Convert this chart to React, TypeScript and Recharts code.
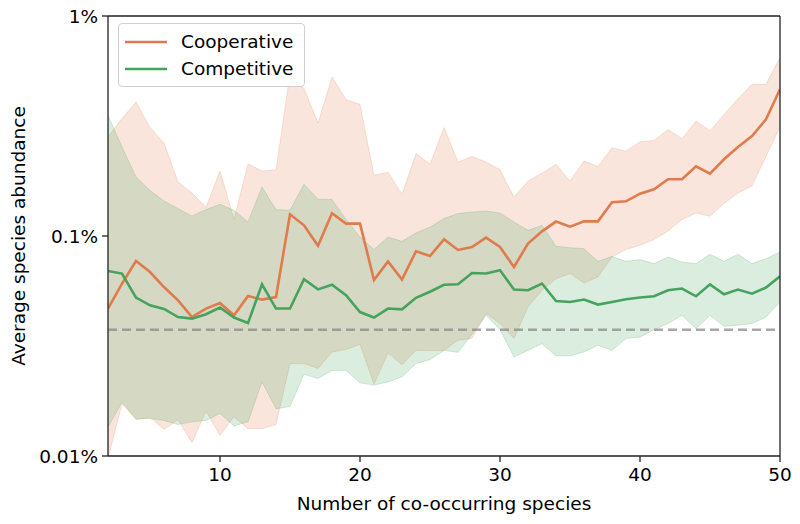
import React from "react";
import {
  ComposedChart,
  Area,
  Line,
  XAxis,
  YAxis,
  ReferenceLine,
  Legend,
} from "recharts";

// number of co-occurring species
const species = [
  2, 3, 4, 5, 6, 7, 8, 9, 10, 11, 12, 13, 14, 15, 16, 17, 18, 19, 20, 21, 22, 23, 24, 25, 26,
  27, 28, 29, 30, 31, 32, 33, 34, 35, 36, 37, 38, 39, 40, 41, 42, 43, 44, 45, 46, 47, 48, 49, 50,
];

// values in percent
const coopMean = [
  0.0468, 0.0608, 0.077, 0.0686, 0.0586, 0.051, 0.0428, 0.0468, 0.0496, 0.0436, 0.0534, 0.0514,
  0.0528, 0.1255, 0.1118, 0.0903, 0.1268, 0.1138, 0.1138, 0.0631, 0.0767, 0.0634, 0.0852, 0.0811,
  0.0966, 0.0864, 0.0891, 0.0983, 0.0891, 0.0723, 0.0924, 0.105, 0.1163, 0.1103, 0.1166, 0.1166,
  0.1423, 0.1438, 0.1558, 0.163, 0.181, 0.181, 0.2074, 0.1921, 0.2232, 0.2538, 0.2848, 0.3393,
  0.4644,
];
const coopLow = [
  0.0097, 0.0173, 0.0146, 0.015, 0.0132, 0.0146, 0.0115, 0.016, 0.0124, 0.0151, 0.0133, 0.0133,
  0.0139, 0.0263, 0.0263, 0.025, 0.0297, 0.0305, 0.0322, 0.0212, 0.0294, 0.026, 0.0302, 0.0302,
  0.0302, 0.0336, 0.0342, 0.0444, 0.04, 0.0342, 0.0476, 0.0567, 0.064, 0.0675, 0.0611, 0.0651,
  0.0804, 0.0868, 0.0907, 0.0963, 0.1054, 0.1187, 0.1272, 0.1229, 0.1404, 0.157, 0.1691, 0.23,
  0.314,
];
const coopHigh = [
  0.282, 0.342, 0.406, 0.311, 0.265, 0.176, 0.157, 0.135, 0.1975, 0.119, 0.213, 0.1975, 0.2,
  0.547, 0.468, 0.326, 0.528, 0.417, 0.397, 0.189, 0.195, 0.155, 0.237, 0.212, 0.311, 0.217,
  0.23, 0.217, 0.2, 0.15, 0.178, 0.193, 0.212, 0.178, 0.219, 0.207, 0.252, 0.243, 0.268, 0.272,
  0.305, 0.277, 0.333, 0.3, 0.357, 0.421, 0.489, 0.489, 0.647,
];
const compMean = [
  0.0693, 0.0675, 0.0525, 0.0484, 0.0466, 0.0428, 0.0421, 0.0441, 0.0473, 0.0426, 0.0402, 0.0603,
  0.0468, 0.0468, 0.0636, 0.0572, 0.0601, 0.0538, 0.0451, 0.0426, 0.0468, 0.0464, 0.0524, 0.0558,
  0.06, 0.0603, 0.0679, 0.0675, 0.0699, 0.0571, 0.0567, 0.0608, 0.0506, 0.0501, 0.0514, 0.0488,
  0.0501, 0.0516, 0.0525, 0.0532, 0.0567, 0.0577, 0.0532, 0.0603, 0.0543, 0.0571, 0.0547, 0.0583,
  0.0656,
];
const compLow = [
  0.0135, 0.0176, 0.0148, 0.0148, 0.0145, 0.0139, 0.0143, 0.0145, 0.0156, 0.0137, 0.0143, 0.0217,
  0.0164, 0.0168, 0.0235, 0.0225, 0.0245, 0.0245, 0.0215, 0.021, 0.0217, 0.0229, 0.0263, 0.0274,
  0.0302, 0.0296, 0.0357, 0.0436, 0.0375, 0.0282, 0.0302, 0.0324, 0.0285, 0.0285, 0.0297, 0.0319,
  0.0302, 0.0342, 0.0347, 0.0375, 0.04, 0.0436, 0.0379, 0.0436, 0.0389, 0.0393, 0.04, 0.0428,
  0.0501,
];
const compHigh = [
  0.354, 0.254, 0.1855, 0.1613, 0.1443, 0.1332, 0.1233, 0.1318, 0.1393, 0.1309, 0.1158, 0.167,
  0.1318, 0.1309, 0.1718, 0.1469, 0.1466, 0.119, 0.099, 0.0868, 0.099, 0.0946, 0.1032, 0.1099,
  0.12, 0.1264, 0.1285, 0.1299, 0.1272, 0.1158, 0.1061, 0.1118, 0.0898, 0.0884, 0.0876, 0.0767,
  0.0808, 0.0767, 0.0781, 0.0749, 0.0803, 0.0762, 0.0749, 0.0826, 0.0767, 0.0826, 0.0749, 0.0789,
  0.0846,
];
const baseline = 0.0375;

const xTicks = [10, 20, 30, 40, 50];
const yTicks = [0.01, 0.1, 1];

const ORANGE = "#e07b4c";
const GREEN = "#45a35e";
const FONT = "DejaVu Sans";

const data = species.map((n, i) => ({
  n,
  coop: coopMean[i],
  coopBand: [coopLow[i], coopHigh[i]],
  comp: compMean[i],
  compBand: [compLow[i], compHigh[i]],
}));

function LegendBox() {
  const items = [
    { label: "Cooperative", color: ORANGE },
    { label: "Competitive", color: GREEN },
  ];
  return (
    <div
      style={{
        border: "1px solid #d0d0d0",
        borderRadius: 4,
        background: "rgba(255,255,255,0.85)",
        padding: "4px 10px 4px 6px",
        fontFamily: FONT,
        fontSize: 18.5,
        color: "#000",
      }}
    >
      {items.map((it) => (
        <div key={it.label} style={{ display: "flex", alignItems: "center", height: 27 }}>
          <svg width={44} height={6} style={{ marginRight: 12 }}>
            <line x1={0} y1={3} x2={42} y2={3} stroke={it.color} strokeWidth={2.6} />
          </svg>
          <span>{it.label}</span>
        </div>
      ))}
    </div>
  );
}

export default function App() {
  const tickStyle = { fontFamily: FONT, fontSize: 18.5, fill: "#000" };
  return (
    <div style={{ position: "absolute", left: 0, top: 0, width: 800, height: 524, background: "#fff" }}>
      <ComposedChart
        width={800}
        height={524}
        data={data}
        margin={{ top: 16, right: 20, bottom: 28, left: 28 }}
      >
        <XAxis
          dataKey="n"
          type="number"
          domain={[2, 50]}
          ticks={xTicks}
          allowDataOverflow
          tick={tickStyle}
          tickSize={6}
          tickMargin={6}
          height={40}
          stroke="#222"
          strokeWidth={1.3}
          label={{
            value: "Number of co-occurring species",
            position: "insideBottom",
            offset: -14,
            style: { fontFamily: FONT, fontSize: 18.5, fill: "#000" },
          }}
        />
        <YAxis
          scale="log"
          domain={[0.01, 1]}
          ticks={yTicks}
          allowDataOverflow
          tickFormatter={(v) => `${v}%`}
          tick={tickStyle}
          tickSize={6}
          tickMargin={4}
          width={80}
          stroke="#222"
          strokeWidth={1.3}
          label={{
            value: "Average species abundance",
            angle: -90,
            position: "insideLeft",
            offset: -10,
            style: { fontFamily: FONT, fontSize: 18.5, fill: "#000", textAnchor: "middle" },
          }}
        />
        <Area
          dataKey="coopBand"
          type="linear"
          fill={ORANGE}
          fillOpacity={0.2}
          stroke={ORANGE}
          strokeOpacity={0.2}
          strokeWidth={1}
          isAnimationActive={false}
          legendType="none"
        />
        <Area
          dataKey="compBand"
          type="linear"
          fill={GREEN}
          fillOpacity={0.2}
          stroke={GREEN}
          strokeOpacity={0.2}
          strokeWidth={1}
          isAnimationActive={false}
          legendType="none"
        />
        <ReferenceLine
          y={baseline}
          stroke="#8a8a8a"
          strokeOpacity={0.75}
          strokeWidth={2.5}
          strokeDasharray="9 5"
        />
        <Line
          dataKey="coop"
          type="linear"
          stroke={ORANGE}
          strokeWidth={2.6}
          dot={false}
          isAnimationActive={false}
        />
        <Line
          dataKey="comp"
          type="linear"
          stroke={GREEN}
          strokeWidth={2.6}
          dot={false}
          isAnimationActive={false}
        />
        {/* top and right frame lines */}
        <ReferenceLine y={1} stroke="#222" strokeWidth={1.3} />
        <ReferenceLine x={50} stroke="#222" strokeWidth={1.3} />
        <Legend
          content={<LegendBox />}
          layout="vertical"
          align="center"
          verticalAlign="middle"
          wrapperStyle={{ position: "absolute", left: 118, top: 23, width: "auto" }}
        />
      </ComposedChart>
    </div>
  );
}
